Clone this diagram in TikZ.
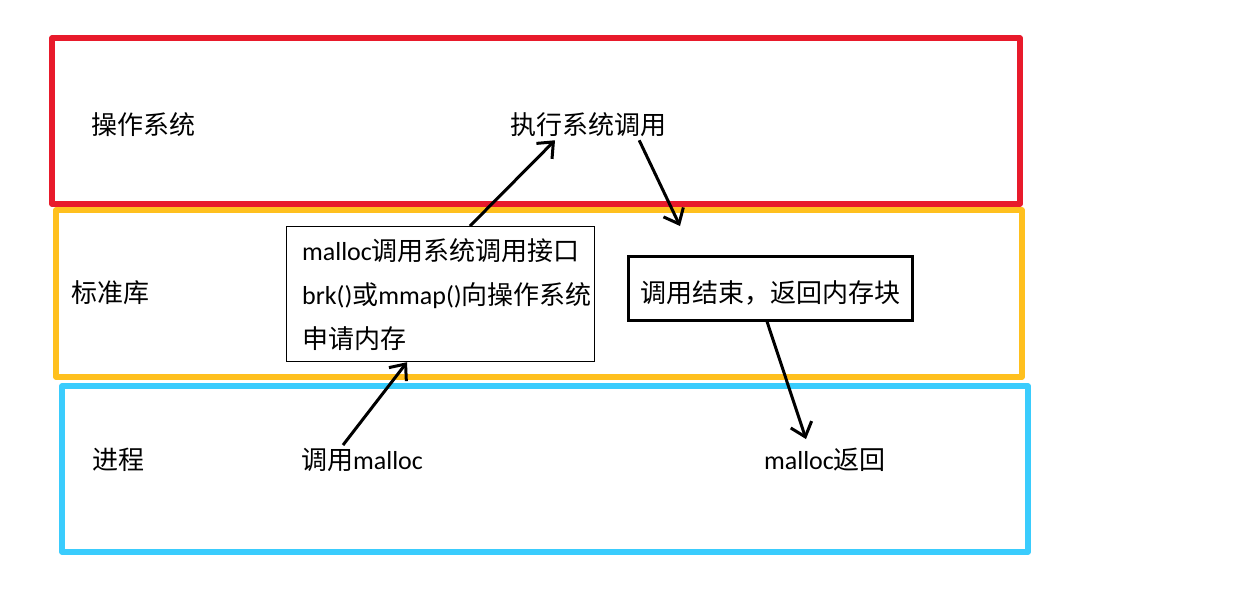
\documentclass[tikz,border=0pt]{standalone}
\usepackage{fontspec}
\setmainfont{Noto Sans CJK SC}
\newfontfamily\latinfont{Carlito}
\newcommand{\lat}[1]{{\latinfont #1}}
\usetikzlibrary{arrows.meta}
\definecolor{osred}{RGB}{232,26,43}
\definecolor{libyellow}{RGB}{255,192,30}
\definecolor{procblue}{RGB}{58,204,253}

\begin{document}
\begin{tikzpicture}[x=1pt,y=-1pt,
  lbl/.style={font=\fontsize{26}{44}\selectfont, inner sep=3pt},
  arr/.style={line width=3pt, -{Straight Barb[length=13pt,width=22pt]}}]
\tikzstyle{layer}=[line width=5.5pt, line join=round]
\tikzstyle{callbox}=[draw, lbl, line width=1.2pt, align=left, inner xsep=2.5pt, minimum width=306pt, minimum height=135pt]
\tikzstyle{retbox}=[draw, lbl, line width=3pt, minimum width=284pt, minimum height=64pt, text height=32pt, text depth=3pt]
\useasboundingbox (0,0) rectangle (1242,608);
% three layers
\draw[layer, libyellow] (56,210) rectangle (1022,377);
\draw[layer, osred] (52,38) rectangle (1020,204);
\draw[layer, procblue] (62,386) rectangle (1028,552);
% layer names
\node[lbl] (os) at (143,125) {操作系统};
\node[lbl] (lib) at (110,293) {标准库};
\node[lbl] (proc) at (118,460) {进程};
% steps
\node[callbox, anchor=north west] (sys) at (286,226) {\hspace*{13pt}\lat{malloc}调用系统调用接口\\\hspace*{13pt}\lat{brk()}或\lat{mmap()}向操作系统\\\hspace*{13pt}申请内存};
\node[lbl] (exec) at (588,125) {执行系统调用};
\node[retbox] (done) at (770,288) {调用结束，返回内存块};
\node[lbl] (call) at (362,460) {调用\lat{malloc}};
\node[lbl] (ret) at (825,460) {\lat{malloc}返回};
\coordinate (back) at (680,226);
% arrows
\draw[arr] ([xshift=184pt]sys.north west) -- ([xshift=-33pt]exec.south);
\draw[arr] ([xshift=-30pt]exec.south east) -- (back);
\draw[arr] ([xshift=-19pt]call.north) -- ([xshift=121pt]sys.south west);
\draw[arr] ([xshift=-3pt]done.south) -- ([xshift=-19pt,yshift=6pt]ret.north);
\end{tikzpicture}
\end{document}
